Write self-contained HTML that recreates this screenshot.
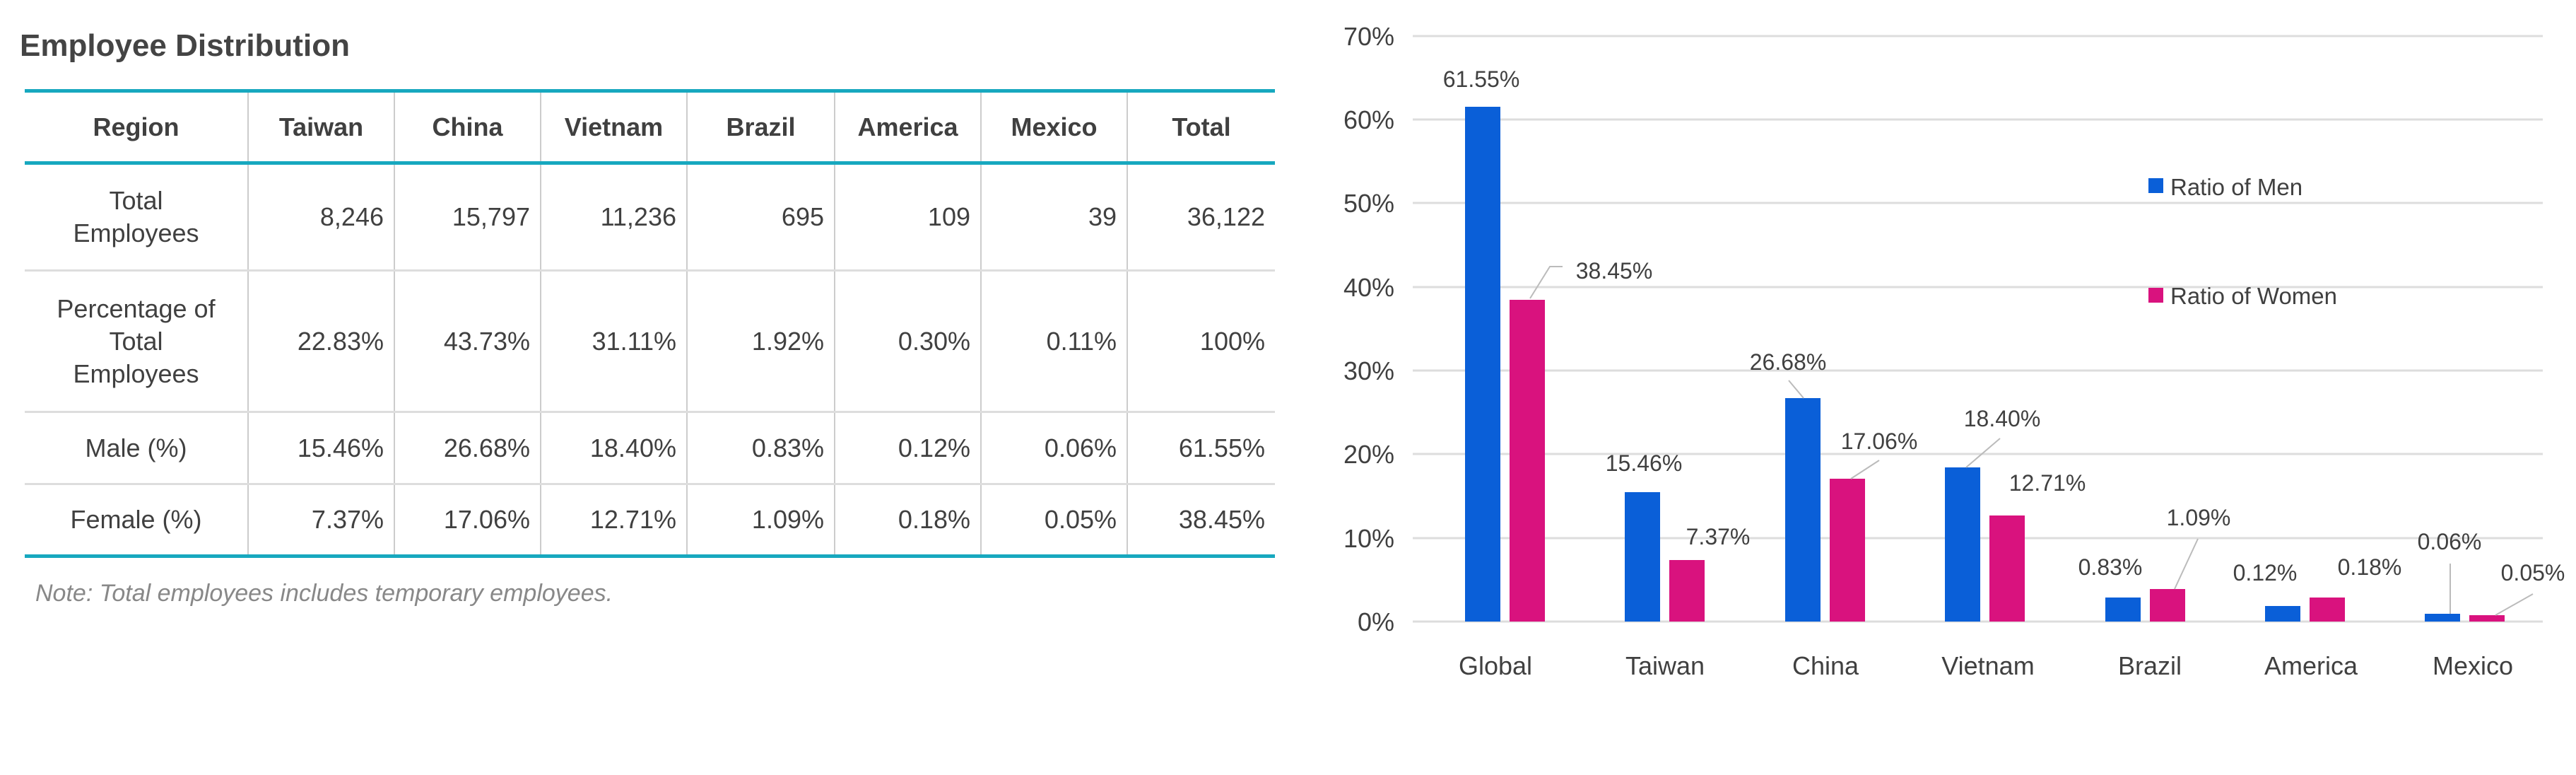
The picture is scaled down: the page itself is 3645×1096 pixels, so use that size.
<!DOCTYPE html>
<html><head><meta charset="utf-8">
<style>
body{margin:0;width:3645px;height:1096px;background:#fff;position:relative;overflow:hidden;font-family:"Liberation Sans",sans-serif;color:#404040}
.title{position:absolute;left:28px;top:40px;font-size:44px;font-weight:bold;color:#444}
table{position:absolute;left:35px;top:126px;width:1769px;border-collapse:collapse;table-layout:fixed}
td,th{font-size:36px;padding:0 14px;border-left:2px solid #ccc;text-align:right;line-height:46px}
td:first-child,th:first-child{border-left:none;text-align:center}
th{font-weight:bold;text-align:center;height:97px;border-top:5px solid #17a8bf;border-bottom:5px solid #17a8bf}
tr.r td{border-bottom:3px solid #ddd}
tr.last td{border-bottom:5px solid #17a8bf}
.note{position:absolute;left:50px;top:820px;font-size:34px;font-style:italic;color:#888}
svg{position:absolute;left:0;top:0}
</style></head><body>
<div class="title">Employee Distribution</div>
<table>
<colgroup><col style="width:316px"><col style="width:207px"><col style="width:207px"><col style="width:207px"><col style="width:209px"><col style="width:207px"><col style="width:207px"><col style="width:209px"></colgroup>
<tr><th>Region</th><th>Taiwan</th><th>China</th><th>Vietnam</th><th>Brazil</th><th>America</th><th>Mexico</th><th>Total</th></tr>
<tr class="r" style="height:152px"><td>Total<br>Employees</td><td>8,246</td><td>15,797</td><td>11,236</td><td>695</td><td>109</td><td>39</td><td>36,122</td></tr>
<tr class="r" style="height:200px"><td>Percentage of<br>Total<br>Employees</td><td>22.83%</td><td>43.73%</td><td>31.11%</td><td>1.92%</td><td>0.30%</td><td>0.11%</td><td>100%</td></tr>
<tr class="r" style="height:102px"><td>Male (%)</td><td>15.46%</td><td>26.68%</td><td>18.40%</td><td>0.83%</td><td>0.12%</td><td>0.06%</td><td>61.55%</td></tr>
<tr class="last" style="height:102px"><td>Female (%)</td><td>7.37%</td><td>17.06%</td><td>12.71%</td><td>1.09%</td><td>0.18%</td><td>0.05%</td><td>38.45%</td></tr>
</table>
<div class="note">Note: Total employees includes temporary employees.</div>
<svg width="3645" height="1096" font-family="Liberation Sans, sans-serif" fill="#404040">
<g stroke="#ddd" stroke-width="3">
<line x1="1999" x2="3598" y1="51" y2="51"/><line x1="1999" x2="3598" y1="169" y2="169"/><line x1="1999" x2="3598" y1="287" y2="287"/><line x1="1999" x2="3598" y1="406" y2="406"/><line x1="1999" x2="3598" y1="524" y2="524"/><line x1="1999" x2="3598" y1="642" y2="642"/><line x1="1999" x2="3598" y1="761" y2="761"/><line x1="1999" x2="3598" y1="879" y2="879"/>
</g>
<g font-size="36" text-anchor="end">
<text x="1973" y="64">70%</text><text x="1973" y="182">60%</text><text x="1973" y="300">50%</text><text x="1973" y="419">40%</text><text x="1973" y="537">30%</text><text x="1973" y="655">20%</text><text x="1973" y="774">10%</text><text x="1973" y="892">0%</text>
</g>
<g fill="#0a5fd8">
<rect x="2073" y="151" width="50" height="728"/>
<rect x="2299" y="696" width="50" height="183"/>
<rect x="2526" y="563" width="50" height="316"/>
<rect x="2752" y="661" width="50" height="218"/>
<rect x="2979" y="845" width="50" height="34"/>
<rect x="3205" y="857" width="50" height="22"/>
<rect x="3431" y="868" width="50" height="11"/>
</g>
<g fill="#d9127e">
<rect x="2136" y="424" width="50" height="455"/>
<rect x="2362" y="792" width="50" height="87"/>
<rect x="2589" y="677" width="50" height="202"/>
<rect x="2815" y="729" width="50" height="150"/>
<rect x="3042" y="833" width="50" height="46"/>
<rect x="3268" y="845" width="50" height="34"/>
<rect x="3494" y="870" width="50" height="9"/>
</g>
<g font-size="36" text-anchor="middle">
<text x="2116" y="954">Global</text><text x="2356" y="954">Taiwan</text><text x="2583" y="954">China</text><text x="2813" y="954">Vietnam</text><text x="3042" y="954">Brazil</text><text x="3270" y="954">America</text><text x="3499" y="954">Mexico</text>
</g>
<g stroke="#bbb" stroke-width="2" fill="none">
<polyline points="2165,422 2193,377 2211,377"/>
<line x1="2531" y1="538" x2="2552" y2="563"/>
<line x1="2659" y1="651" x2="2619" y2="677"/>
<line x1="2830" y1="620" x2="2782" y2="661"/>
<line x1="3110" y1="762" x2="3077" y2="833"/>
<line x1="3467" y1="797" x2="3467" y2="868"/>
<line x1="3584" y1="840" x2="3531" y2="870"/>
</g>
<g font-size="32" text-anchor="middle">
<text x="2096" y="123">61.55%</text>
<text x="2284" y="394">38.45%</text>
<text x="2326" y="666">15.46%</text>
<text x="2431" y="770">7.37%</text>
<text x="2530" y="523">26.68%</text>
<text x="2659" y="635">17.06%</text>
<text x="2833" y="603">18.40%</text>
<text x="2897" y="694">12.71%</text>
<text x="2986" y="813">0.83%</text>
<text x="3111" y="743">1.09%</text>
<text x="3205" y="821">0.12%</text>
<text x="3353" y="813">0.18%</text>
<text x="3466" y="777">0.06%</text>
<text x="3584" y="821">0.05%</text>
</g>
<rect x="3040" y="252" width="21" height="21" fill="#0a5fd8"/>
<text x="3071" y="276" font-size="33">Ratio of Men</text>
<rect x="3040" y="407" width="21" height="21" fill="#d9127e"/>
<text x="3071" y="430" font-size="33">Ratio of Women</text>
</svg>
</body></html>
